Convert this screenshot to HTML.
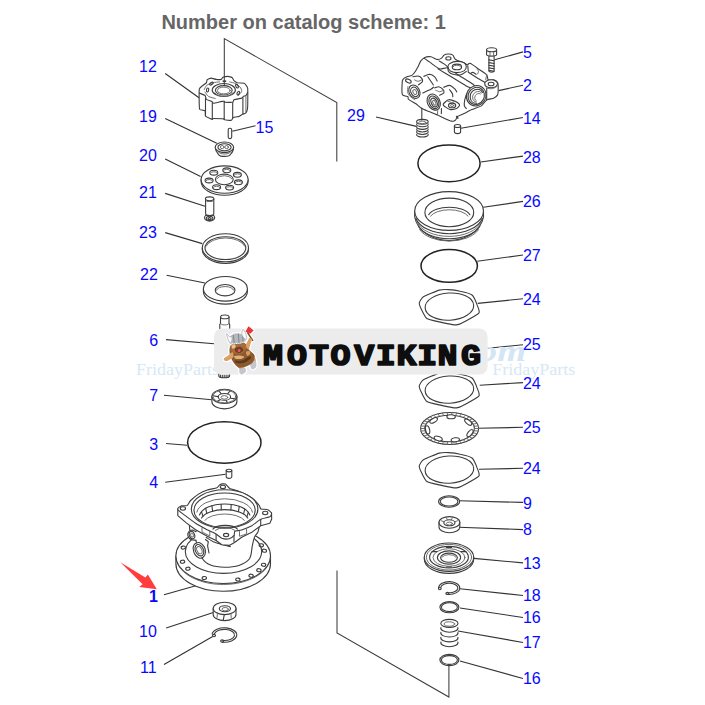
<!DOCTYPE html>
<html lang="en">
<head>
<meta charset="utf-8">
<title>Number on catalog scheme: 1</title>
<style>
html,body{margin:0;padding:0;background:#fff;}
body{width:705px;height:705px;overflow:hidden;position:relative;font-family:"Liberation Sans",Arial,sans-serif;}
#scheme{position:absolute;left:0;top:0;width:705px;height:705px;display:block;}
.ttl{font:bold 20px "Liberation Sans",Arial,sans-serif;fill:#666;}
.n{font:16px "Liberation Sans",Arial,sans-serif;fill:#0808ff;}
.nb{font:bold 16px "Liberation Sans",Arial,sans-serif;fill:#0808ff;}
.ld{stroke:#333;stroke-width:1.15;fill:none;}
.p{stroke:#3c3c3c;stroke-width:1.1;fill:none;stroke-linejoin:round;stroke-linecap:round;}
.p2{stroke:#666;stroke-width:0.95;fill:none;stroke-linejoin:round;stroke-linecap:round;}
.pf{stroke:#3c3c3c;stroke-width:1.1;fill:#fff;stroke-linejoin:round;stroke-linecap:round;}
.or{stroke:#222;stroke-width:1.5;fill:none;}
.wm{font:16px "Liberation Serif",serif;fill:#d6e8f5;}
.wmi{font:italic bold 29px "Liberation Serif",serif;fill:#d3e6f4;}
.logo{font:bold 30px "Liberation Mono",monospace;fill:#0e0e0e;stroke:#0e0e0e;stroke-width:1.7px;stroke-linejoin:round;}
</style>
</head>
<body>
<svg id="scheme" width="705" height="705" viewBox="0 0 705 705">
<rect width="705" height="705" fill="#fff"/>
<text class="ttl" x="161.4" y="28.8">Number on catalog scheme: 1</text>
<g class="ld" id="leaders">
<path d="M165.2 73.5L199 97.7"/>
<path d="M165.2 118.6L216.8 143.3"/>
<path d="M232.3 131.2L255.5 125.8"/>
<path d="M165.2 159L200.6 176.4"/>
<path d="M165.2 193.4L205 206.2"/>
<path d="M165.2 232.6L202.3 243.6"/>
<path d="M166.6 275.3L204.9 283"/>
<path d="M166 339.6L214 343.8"/>
<path d="M164 395.2L211.7 399.8"/>
<path d="M166.1 443.5L187 445.2"/>
<path d="M165.2 482.3L225.6 474.2"/>
<path d="M164 594.7L195.8 585.7"/>
<path d="M166.2 628L213.3 612.5"/>
<path d="M164 664.6L212.7 636.4"/>
<path d="M376 117L416.4 126.4"/>
<path d="M494.6 59.8L523 51.9"/>
<path d="M498.6 90.6L523 85.2"/>
<path d="M460.8 128.3L523 117.5"/>
<path d="M480.7 162L523 156.1"/>
<path d="M483.3 207.3L523 201.4"/>
<path d="M477.3 261.3L523 255"/>
<path d="M477.7 303.4L523 298.7"/>
<path d="M488 348.3L523 344.7"/>
<path d="M479.7 385.2L523 382.6"/>
<path d="M477.7 428.3L523 427.3"/>
<path d="M479 469.3L523 468.3"/>
<path d="M459.5 500.8L523 502.4"/>
<path d="M458.9 527.2L523 529.6"/>
<path d="M473.8 558.4L523 562.9"/>
<path d="M459.9 588.7L523 595.5"/>
<path d="M460 608L523 617.5"/>
<path d="M458 631L523 642.5"/>
<path d="M460 661L523 678.5"/>
</g>
<!-- p_lt -->
<g id="p_lt">
<path class="pf" d="M199.3 89.1C199.5 87.7 202 86.2 202.5 85.7C203 85.3 206 83.2 206.3 82.8C206.7 82.3 206.8 80.1 207.2 79.8C207.5 79.4 210.4 78.1 211 78.1C211.7 78.1 215.4 79.3 216.1 79.4C216.9 79.5 220.7 79.5 221.2 79.4C221.7 79.2 222.4 77.5 222.9 77.2C223.4 77 227.4 76.4 228 76.4C228.7 76.4 231.9 77.3 232.3 77.7C232.7 78 233.6 80.3 234 80.6C234.4 81 236.7 82.6 237.4 82.8C238.2 83 243.6 83 244.2 83.2C244.9 83.4 246.1 85.4 246.3 85.7C246.6 86.1 247.5 87.4 247.6 87.9C247.7 88.3 247.8 90.7 247.8 92.1C247.8 93.6 247.8 105.9 247.6 107.4C247.5 109 246.3 112.5 245.9 113C245.5 113.5 243 114 242.5 114.3C242 114.5 239.8 116.1 239.1 116.4C238.4 116.6 233.7 117.4 233.1 117.7C232.6 117.9 232.1 120.1 231.4 120.2C230.8 120.4 225.2 119.9 224.6 119.8C224.1 119.7 224.6 119 223.8 118.9C223 118.8 214.4 118.5 213.6 118.5C212.7 118.5 212.5 119.4 212.3 119.4C212 119.4 210.7 118.8 210.2 118.5C209.7 118.3 205.9 116.5 205.5 116C205.1 115.4 205.5 111.3 205.1 110.9C204.7 110.4 200.4 109.9 200 109.6C199.5 109.2 199.3 107.2 199.3 105.7C199.2 104.2 199 90.6 199.3 89.1Z"/>
<path class="p" d="M199.3 93C199.7 93.2 204.5 95.1 205.1 95.5C205.6 96 205.8 98.9 206.3 99.4C206.8 99.8 211.3 101.2 211.9 101.5C212.4 101.8 212.7 103.2 213.6 103.2C214.4 103.2 222.9 101.1 223.8 101.1C224.6 101 224.4 102.2 225.1 102.3C225.7 102.4 232.1 102.5 232.7 102.3C233.4 102.2 233.3 100.1 234 99.8C234.7 99.5 241 98.3 241.7 98.1C242.3 97.8 243 96.6 243.4 96.4C243.7 96.2 245.6 95.8 245.9 95.5C246.2 95.3 247.5 92.8 247.6 92.6"/>
<path class="p" d="M205.5 98.5L205.5 116"/>
<path class="p" d="M212.3 102.8L212.3 118.9"/>
<path class="p" d="M224.2 102.2L224.2 119.4"/>
<path class="p" d="M232.7 102.8L232.7 117.7"/>
<path class="p" d="M242.9 97.7L242.9 113.6"/>
<path class="p2" d="M245.9 95.5L245.9 112.6"/>
<ellipse class="p" cx="223.8" cy="90" rx="11.6" ry="6.5"/>
<ellipse class="p" cx="223.8" cy="90.3" rx="8.4" ry="4.7"/>
<ellipse class="p2" cx="223.8" cy="90.5" rx="6.4" ry="3.4"/>
<path class="p2" d="M232.8 92.8A9.6 5.4 0 0 1 214.8 92.8"/>
<path class="p2" d="M204.2 89.6C204.6 89 205.6 86.2 206.8 85.3C207.9 84.4 211 83.2 212.7 82.8C214.4 82.3 218.6 82 219.5 81.9"/>
<path class="p2" d="M229.7 81.9C230.5 82.1 234.3 82.9 235.7 83.6C237.1 84.3 239.2 86 240 87C240.8 88 241.9 90.1 241.7 91.3C241.4 92.4 238.7 95 238.3 95.5"/>
<path class="p2" d="M205.1 92.1C205.5 92.7 207.1 95.5 208.5 96.4C209.8 97.2 214.4 98.2 215.3 98.5"/>
<ellipse class="p" cx="207.6" cy="90" rx="1.1" ry="2" transform="rotate(10 207.6 90)"/>
<ellipse class="p" cx="237" cy="86.2" rx="1.1" ry="2" transform="rotate(-35 237 86.2)"/>
<ellipse class="p" cx="238.3" cy="93.1" rx="1.1" ry="2" transform="rotate(30 238.3 93.1)"/>
<ellipse class="p" cx="211.4" cy="83.6" rx="1.1" ry="2" transform="rotate(60 211.4 83.6)"/>
<rect class="pf" x="228.2" y="128.2" width="3.5" height="10.4" rx="1.6"/>
<g transform="translate(0 0.8)"><path class="pf" d="M215.3 146.6C215.6 151 217.5 152.5 218.4 153.4C219.5 156.3 229.6 156.4 230.6 153.3C231.8 152.3 233.4 150.8 233.6 146.6"/>
<ellipse class="pf" cx="224.4" cy="146.5" rx="9.2" ry="5.3"/>
<ellipse class="p" cx="224.5" cy="146.5" rx="6.6" ry="3.6"/>
<ellipse class="p2" cx="222.2" cy="146.3" rx="1.8" ry="1.6"/>
<ellipse class="p2" cx="226.6" cy="146.3" rx="1.8" ry="1.6"/>
<path class="p2" d="M230.7 151.2A6.4 2.8 0 0 1 218.3 151.2"/></g>
<path class="pf" d="M201.1 179.6V181.6A23.5 13.7 0 0 0 248.1 181.6V179.6"/>
<ellipse class="pf" cx="224.6" cy="179.6" rx="23.5" ry="13.7"/>
<ellipse class="p" cx="224.3" cy="179.4" rx="8.9" ry="5.3"/>
<path class="p2" d="M216.8 178.7A8 4.6 0 0 1 231.8 178.7"/>
<ellipse class="p" cx="213.8" cy="172.7" rx="4" ry="2.4"/>
<path class="p2" d="M210.6 173A3.4 1.9 0 0 1 217 173"/>
<ellipse class="p" cx="226.8" cy="170.3" rx="4" ry="2.4"/>
<path class="p2" d="M223.6 170.6A3.4 1.9 0 0 1 230 170.6"/>
<ellipse class="p" cx="237.4" cy="174.8" rx="4" ry="2.4"/>
<path class="p2" d="M234.2 175.1A3.4 1.9 0 0 1 240.6 175.1"/>
<ellipse class="p" cx="238.4" cy="182.3" rx="4" ry="2.4"/>
<path class="p2" d="M235.2 182.6A3.4 1.9 0 0 1 241.6 182.6"/>
<ellipse class="p" cx="229.6" cy="187.6" rx="4" ry="2.4"/>
<path class="p2" d="M226.4 187.9A3.4 1.9 0 0 1 232.8 187.9"/>
<ellipse class="p" cx="216.6" cy="187.2" rx="4" ry="2.4"/>
<path class="p2" d="M213.4 187.5A3.4 1.9 0 0 1 219.8 187.5"/>
<ellipse class="p" cx="209.1" cy="180.5" rx="4" ry="2.4"/>
<path class="p2" d="M205.9 180.8A3.4 1.9 0 0 1 212.3 180.8"/>
<ellipse class="pf" cx="209.6" cy="217.8" rx="5.1" ry="3.3"/>
<ellipse class="p" cx="209.6" cy="218.3" rx="3.4" ry="2.1"/>
<ellipse class="p" cx="209.6" cy="218.6" rx="1.6" ry="1"/>
<path class="p" d="M205.4 215.2L213.8 215.2"/>
<path class="pf" d="M205.6 198.8V213.6A4.1 2 0 0 0 213.8 213.6V198.8"/>
<ellipse class="pf" cx="209.6" cy="198.8" rx="4.2" ry="1.9"/>
<path class="p2" d="M207 201.5L212.2 201.5"/>
<path class="pf" d="M202.3 247.8V249.4A23.1 14 0 0 0 248.5 249.4V247.8"/>
<ellipse class="pf" cx="225.4" cy="247.8" rx="23.1" ry="14"/>
<ellipse class="p" cx="225.4" cy="248.1" rx="20.4" ry="11.4"/>
<path class="p2" d="M206.1 246.2A20 11 0 0 1 244.8 246.2"/>
<path class="pf" d="M203.4 288.8V291.8A22 12.3 0 0 0 247.4 291.8V288.8"/>
<ellipse class="pf" cx="225.4" cy="288.8" rx="22" ry="12.3"/>
<ellipse class="p" cx="225.1" cy="290.2" rx="9.9" ry="5.7"/>
<path class="p2" d="M216.4 290.3A9 5 0 0 1 233.8 290.3"/>
</g>
<!-- p_lb -->
<g id="p_lb">
<path class="pf" d="M220.5 317V323.2L219.8 324.6V331H229.7V324.6L229 323.2V317"/>
<ellipse class="pf" cx="224.8" cy="316.9" rx="4.2" ry="1.9"/>
<path class="p2" d="M229 323.3A4.2 1.6 0 0 1 220.5 323.3"/>
<path class="pf" d="M218.8 372V376A5.4 1.8 0 0 0 229.6 376V372"/>
<path class="p" d="M220.4 375L220.4 377.4"/>
<path class="p" d="M222.3 375L222.3 377.4"/>
<path class="p" d="M224.2 375L224.2 377.4"/>
<path class="p" d="M226.1 375L226.1 377.4"/>
<path class="p" d="M228 375L228 377.4"/>
<path class="pf" d="M211.9 396.4V401.8A12.5 7.1 0 0 0 236.9 401.8V396.4"/>
<ellipse class="pf" cx="224.4" cy="396.4" rx="12.5" ry="7.1"/>
<ellipse class="p" cx="224.4" cy="396.9" rx="6.2" ry="3.4"/>
<ellipse class="p2" cx="224.4" cy="397.4" rx="3.4" ry="1.8"/>
<path class="p" d="M230.7 398.2L235.4 398.7"/>
<path class="p" d="M226.2 400.5L227.5 402.8"/>
<path class="p" d="M220.2 399.7L217 401.5"/>
<path class="p" d="M217.9 396.6L212.9 395.8"/>
<path class="p" d="M221.1 393.7L218.6 390.7"/>
<path class="p" d="M227.8 393.7L230.2 390.7"/>
<ellipse class="p2" cx="224.4" cy="396.4" rx="11.4" ry="6.4"/>
<ellipse class="or" cx="224.3" cy="442.5" rx="36.7" ry="20.7"/>
<path class="pf" d="M226.2 470.6V476.6A2.8 1.8 0 0 0 231.8 476.6V470.6"/>
<ellipse class="pf" cx="229" cy="470.6" rx="2.8" ry="1.3"/>
<path class="pf" d="M175.9 556V563.8A47.3 27.5 0 0 0 270.5 563.8V556"/>
<ellipse class="pf" cx="223.2" cy="556" rx="47.3" ry="27.5"/>
<path class="p2" d="M265.5 568.9A46.7 27.1 0 0 1 180.9 568.9"/>
<ellipse class="p" cx="223.5" cy="551.6" rx="38.2" ry="21.8"/>
<ellipse class="p" cx="183.3" cy="547.6" rx="2.2" ry="1.5" transform="rotate(-10 183.3 547.6)"/>
<ellipse class="p" cx="182.5" cy="561.7" rx="2.2" ry="1.5" transform="rotate(-10 182.5 561.7)"/>
<ellipse class="p" cx="187.9" cy="568.7" rx="2.2" ry="1.5" transform="rotate(-10 187.9 568.7)"/>
<ellipse class="p" cx="204.3" cy="578" rx="2.2" ry="1.5" transform="rotate(-10 204.3 578)"/>
<ellipse class="p" cx="237.9" cy="579.6" rx="2.2" ry="1.5" transform="rotate(10 237.9 579.6)"/>
<ellipse class="p" cx="251.1" cy="575.7" rx="2.2" ry="1.5" transform="rotate(10 251.1 575.7)"/>
<ellipse class="p" cx="258.9" cy="570.2" rx="2.2" ry="1.5" transform="rotate(10 258.9 570.2)"/>
<ellipse class="p" cx="263.6" cy="564.8" rx="2.2" ry="1.5" transform="rotate(10 263.6 564.8)"/>
<ellipse class="p" cx="264.4" cy="550.7" rx="2.2" ry="1.5" transform="rotate(10 264.4 550.7)"/>
<ellipse class="p" cx="261.3" cy="545.3" rx="2.2" ry="1.5" transform="rotate(10 261.3 545.3)"/>
<path class="pf" d="M189.2 521.8C189.4 523.5 189.1 528.4 190.3 531.7C191.5 535 194.3 537.3 196.3 541.7C198.2 546 199.6 554.1 202 558C204.3 561.9 206.7 563.5 210.5 565.1C214.2 566.6 219.9 567.2 224.6 567.2C229.4 567.2 234.7 566.8 238.8 565.4C243 563.9 247.2 561.9 249.5 558.7C251.7 555.4 251.5 549.5 252.3 545.9C253.1 542.4 253.5 539.8 254.4 537.4C255.4 535 257 534.3 258 531.7C258.9 529.1 259.8 523.5 260.1 521.8Z"/>
<path class="pf" d="M196.3 531.7C195.6 531.5 193.3 530 192 530C190.7 530.1 189.1 531 188.5 532C187.8 533 187.6 534.7 188 536C188.5 537.2 189.5 538.8 190.9 539.5C192.3 540.2 195.4 540.1 196.3 540.2"/>
<ellipse class="p" cx="192" cy="535.1" rx="2.6" ry="3.8" transform="rotate(-20 192 535.1)"/>
<ellipse class="p2" cx="192" cy="535.1" rx="1.3" ry="2" transform="rotate(-20 192 535.1)"/>
<path class="pf" d="M196.3 543.1C197.2 542.8 198.5 542.2 199.8 542.8C201.1 543.4 203.1 545 204.1 546.6C205 548.2 205.6 550.6 205.5 552.3C205.4 554 204.4 556 203.4 557C202.3 557.9 200.5 558.4 199.1 558C197.7 557.6 195.9 556 194.9 554.4C193.9 552.9 193.3 550.4 193.2 548.8C193 547.2 193.6 545.7 194.1 544.8C194.7 543.8 195.3 543.4 196.3 543.1Z"/>
<ellipse class="p" cx="199.4" cy="550.2" rx="4" ry="6" transform="rotate(-25 199.4 550.2)"/>
<ellipse class="p2" cx="199.4" cy="550.2" rx="2.4" ry="3.8" transform="rotate(-25 199.4 550.2)"/>
<path class="p" d="M205.5 539.5 L208.3 541.7 L207.6 545.9 L209 553"/>
<path class="p" d="M206.2 537.4C207.4 538.1 210.7 540.5 213.3 541.7C215.9 542.8 219 543.7 221.8 544.5C224.6 545.3 228.9 546.3 230.3 546.6"/>
<path class="pf" d="M177.8 509 L177.8 515.6 L186.3 522.9 L195.6 529.8 L207.3 536.3 L216.1 540.5 L221.8 544.8 L229.2 545.4 L234.6 542.5 L241.7 537.3 L252.3 531.9 L260.7 525.8 L269.8 523.2 L271.7 519 L271.5 513Z"/>
<path class="p" d="M216.1 534L216.1 540.2"/>
<path class="p" d="M234 535.4L234 541.7"/>
<path class="p" d="M260.7 519.3L260.7 525.5"/>
<path class="p2" d="M202 527.8 L202 532 L209.8 536 L209.8 531.5"/>
<path class="p2" d="M239.5 531.5 L239.5 536.3 L246.6 533.9 L246.6 529.2"/>
<path class="pf" d="M216.8 487.8C218.4 487.1 219.1 484.8 220.1 484.4C221.1 483.9 224.4 483.6 225.5 484.1C226.6 484.6 228.1 487.6 229.8 488.5C231.4 489.3 237 490.4 239.5 491.5C242.1 492.5 249.3 496.1 251.6 497.7C253.9 499.3 257.9 503.7 259 505.1C260.1 506.4 260 508.5 261 509C261.9 509.6 266 509 267.2 509.5C268.4 509.9 271.2 512.2 271.5 513C271.8 513.9 271 516 269.8 516.7C268.5 517.4 262.7 518.2 260.7 519.3C258.6 520.3 254.5 524.1 252.3 525.4C250.1 526.6 243.7 529.2 241.7 529.9C239.6 530.6 235.8 530.7 234.9 531.3C234 532 234.7 534.5 234 535.4C233.3 536.3 230.6 538.5 229.2 538.8C227.8 539.2 223.3 538.8 221.8 538.3C220.3 537.7 217.8 535 216.1 534C214.4 533 209.7 531 207.3 529.8C204.9 528.5 198 524.8 195.6 523.2C193.1 521.7 188.3 517.9 186.3 516.4C184.4 515 179.7 511.7 178.7 510.7C177.7 509.8 177.5 509 177.8 508.5C178.1 507.9 180.1 506.3 181.2 505.9C182.3 505.6 186.1 506 187.2 505.4C188.3 504.7 189.3 501.8 190.6 500.5C191.9 499.3 196.3 495.6 198.1 494.4C200 493.2 204.4 491 206.6 490.2C208.8 489.4 215.3 488.4 216.8 487.8Z"/>
<ellipse class="p" cx="222.9" cy="486.9" rx="2.6" ry="1.7"/>
<ellipse class="p" cx="182.9" cy="508.5" rx="2.6" ry="1.7"/>
<ellipse class="p" cx="265.2" cy="513" rx="2.6" ry="1.7"/>
<ellipse class="p" cx="226.1" cy="535.1" rx="2.6" ry="1.7"/>
<ellipse class="pf" cx="224.6" cy="509" rx="33.3" ry="19.2"/>
<ellipse class="p" cx="224.6" cy="510.2" rx="30.6" ry="17.2"/>
<path class="p2" d="M196.8 512.2A28 15 0 0 1 252.5 512.2"/>
<path class="p" d="M199.5 515A25.5 13.2 0 0 1 249.8 515"/>
<path class="p" d="M201.5 518.1A24 11.5 0 0 1 247.8 518.1"/>
<path class="p" d="M201.5 511.7L202.9 516.2"/>
<path class="p" d="M205.7 508.4L206.8 513.3"/>
<path class="p" d="M211.9 505.8L212.6 511.1"/>
<path class="p" d="M221.1 504.2L221.3 509.7"/>
<path class="p" d="M231.2 504.5L230.9 509.9"/>
<path class="p" d="M239.3 506.4L238.4 511.6"/>
<path class="p" d="M244.7 509.1L243.6 514"/>
<path class="p" d="M248.3 512.3L246.9 516.7"/>
<path class="p" d="M212.9 529.1A13 5.6 0 0 1 237.4 529.1"/>
<path class="p2" d="M215.2 530.4A11 4.4 0 0 1 235.1 530.4"/>
<path class="p2" d="M204.9 520.3A21 9.5 0 0 1 244.4 520.3"/>
<path class="pf" d="M213.2 608.4V614.4A11.4 6.2 0 0 0 236 614.4V608.4"/>
<ellipse class="pf" cx="224.6" cy="608.4" rx="11.4" ry="6.2"/>
<ellipse class="p" cx="224.9" cy="608.7" rx="5.6" ry="3"/>
<ellipse class="p2" cx="225.2" cy="609.2" rx="3.2" ry="1.7"/>
<path class="p" d="M224.2 615.2L223.2 620.4"/>
<path class="p2" d="M217.5 613L217 617.5"/>
<path class="p2" d="M231 613.6L231.2 618"/>
<path class="p" d="M212.1 634A12.4 7.2 0 1 1 222.2 642.1"/>
<path class="p" d="M214.4 633.8A10.2 5.6 0 1 1 223 640.5"/>
<ellipse class="p" cx="214" cy="635.6" rx="1.5" ry="1.2"/>
<ellipse class="p" cx="222.2" cy="641" rx="1.6" ry="1.1"/>
</g>
<!-- p_rt -->
<g id="p_rt">
<path class="pf" d="M424.8 57.4C423.8 57.9 421.5 60 420.8 60.9C420.1 61.9 418.5 65.8 417.9 66.9C417.3 68 415.5 71.2 414.9 72C414.3 72.9 412.7 74.9 411.9 75.4C411.1 75.9 407.9 76.4 406.9 76.8C406 77.2 403.2 79 402.8 79.6C402.3 80.2 402.2 81.3 402.2 82.8C402.1 84.3 401.8 93.3 402.4 94.7C402.9 96.1 407.3 96.2 407.9 96.7C408.5 97.1 407.7 98.5 408.5 99.3C409.3 100 414.5 102.9 415.9 103.8C417.2 104.8 420.4 107.8 421.8 108.6C423.2 109.4 428.2 111.1 429.8 111.8C431.4 112.4 436.4 114.5 437.7 115C439 115.6 441.4 117 442.7 117.5C443.9 118.1 449.1 120.4 450.1 120.8C451.2 121.2 452.7 121.3 453.2 121.2C453.8 121.1 455.3 120.4 455.7 119.9C456.1 119.4 456.6 117.2 457.5 116.5C458.3 115.9 462.6 114.3 464 113.6C465.4 112.9 470 110.4 471.8 109.6C473.5 108.8 480.2 106.6 481.7 105.6C483.2 104.6 485.5 100.6 486.7 99.9C487.9 99.1 492.5 98.8 493.6 98.3C494.7 97.8 497.1 95.7 497.6 94.9C498 94 498.2 90.9 498.2 89.7C498.2 88.5 498.2 84 497.8 83C497.3 82 494.8 80.1 493.8 79.8C492.9 79.5 489 80.5 488.2 80C487.5 79.5 487.7 76 486.7 74.8C485.6 73.7 479.4 69.6 477.7 68.5C476.1 67.3 471 63.7 470 63.3C468.9 62.9 467.8 65 467.2 64.9C466.6 64.8 465 63.1 464 62.7C463.1 62.3 458.8 61.1 457.9 60.7C456.9 60.3 455.4 59.5 454.9 58.9C454.4 58.4 453.5 55.7 452.9 55.2C452.3 54.7 449.3 54 448.4 54C447.5 54 444.6 54.7 444 55.2C443.3 55.6 442.2 57.7 441.6 58.1C440.9 58.6 438.3 59.6 437.2 59.4C436.2 59.3 432.2 57 431 56.8C429.7 56.6 425.8 57 424.8 57.4Z"/>
<path class="p" d="M424.3 58.4C425 58.9 429.2 61.9 430.8 62.9C432.3 64 438 68.4 439.7 68.9C441.4 69.4 446.1 67.3 447.9 67.9C449.7 68.5 455.6 73.3 457.9 74.8C460.1 76.3 468.9 81.6 470.8 82.8C472.6 84 475.7 86.5 476.2 86.9"/>
<path class="p" d="M438 68.9C439.5 69.8 450.1 76.1 452.9 77.8C455.7 79.5 464 84.7 465.8 85.7C467.6 86.8 470.3 87.7 470.8 87.9"/>
<path class="p" d="M439 60.9C439.5 61.2 443 63.2 444 63.9C445 64.6 448.4 67.5 448.9 67.9"/>
<ellipse class="p" cx="448.4" cy="58.4" rx="2.6" ry="1.6"/>
<path class="pf" d="M447.9 66.9C447.9 65.8 448.6 64.2 449.9 63.4C451.3 62.6 454.8 61.5 456.9 61.4C459 61.3 462.6 62 464 62.7C465.4 63.5 466.3 65.2 466.3 66.4C466.3 67.6 465.4 69.9 464 70.9C462.6 71.8 458.9 72.6 456.9 72.6C454.8 72.6 451.8 71.7 450.4 70.9C449.1 70 448 68 447.9 66.9Z"/>
<ellipse class="p" cx="456.9" cy="66.9" rx="4.7" ry="2.8"/>
<path class="p2" d="M453.1 66.7A4 2.2 0 0 1 460.6 66.7"/>
<path class="p" d="M447.9 67.4C448 67.9 447.8 70.4 448.4 71.4C449.1 72.3 451.2 73.9 452.9 74.3C454.6 74.8 459.1 75.2 460.8 74.8C462.6 74.4 465.6 71.8 466.3 71.4"/>
<path class="p" d="M467.8 65.9 L468.3 72.3 L477.7 78.3 L484.7 82.3"/>
<path class="p" d="M470.8 73.3C471.1 73.2 472.2 72.2 473 72.3C473.7 72.5 475.8 74.1 476.2 74.3"/>
<path class="p2" d="M477.2 69.4C477.4 69.6 478.5 70.8 478.5 71.4C478.6 71.9 477.8 73.5 477.7 73.8"/>
<path class="p2" d="M486.7 74.8 L485.7 79.8"/>
<ellipse class="pf" cx="491.1" cy="83.8" rx="6.4" ry="4"/>
<ellipse class="p" cx="491.1" cy="84" rx="2.9" ry="1.8"/>
<path class="p2" d="M484.9 84.8C485.1 85.2 485.8 87.2 486.7 87.7C487.6 88.3 490.3 88.9 491.6 88.7C492.9 88.6 495.8 87.3 496.6 86.7C497.4 86.1 497.5 84.6 497.6 84.3"/>
<path class="p" d="M486.7 88.2 L486.7 99.9"/>
<ellipse class="pf" cx="476.2" cy="95.7" rx="9.6" ry="10.4" transform="rotate(30 476.2 95.7)"/>
<ellipse class="p" cx="476.2" cy="95.9" rx="8" ry="8.8" transform="rotate(30 476.2 95.9)"/>
<path class="p" d="M476.5 103.3A6.4 7.2 30 1 1 482.7 92.5"/>
<path class="p2" d="M476.2 102.1A4.8 5.6 30 1 1 481.5 92.9"/>
<path class="p2" d="M476.3 100.8A3.2 4 30 1 1 480.3 93.9"/>
<path class="p" d="M466.8 93.7C466.5 94.5 465.1 98.1 464.8 99.7C464.5 101.2 464.1 104.4 464.3 105.6C464.5 106.8 466 108.2 466.3 108.6"/>
<path class="p" d="M456.4 116.3C456.6 116.6 457.7 118.5 457.9 118.5C458 118.5 457.5 116.8 457.5 116.5"/>
<ellipse class="p" cx="408.4" cy="81" rx="3" ry="1.7" transform="rotate(25 408.4 81)"/>
<path class="p" d="M412.9 76.8C413.6 76.7 416.7 75.8 417.9 76C419.1 76.2 421.2 77.6 421.8 78.4C422.4 79.2 422.9 80.9 422.4 81.8C422 82.6 418.9 84.4 418.4 84.8"/>
<path class="p2" d="M414.4 79.8C414.8 80 416.9 81.3 417.9 81.3C418.9 81.3 421.3 80 421.8 79.8"/>
<ellipse class="pf" cx="414.4" cy="91.7" rx="5.2" ry="7" transform="rotate(-28 414.4 91.7)"/>
<ellipse class="p" cx="414.6" cy="91.9" rx="3.6" ry="5" transform="rotate(-28 414.6 91.9)"/>
<ellipse class="p2" cx="414.8" cy="92.1" rx="1.7" ry="2.6" transform="rotate(-28 414.8 92.1)"/>
<path class="p2" d="M407.9 86.7C407.9 87.5 407.4 91.4 407.7 92.7C408.1 94 409.5 95.7 410.4 96.7C411.4 97.6 414.3 99.3 414.9 99.7"/>
<ellipse class="pf" cx="433.7" cy="102.1" rx="6.2" ry="8.4" transform="rotate(-25 433.7 102.1)"/>
<ellipse class="p" cx="433.9" cy="102.3" rx="4.6" ry="6.6" transform="rotate(-25 433.9 102.3)"/>
<ellipse class="p" cx="434.1" cy="102.5" rx="2.8" ry="4.6" transform="rotate(-25 434.1 102.5)"/>
<ellipse class="p2" cx="434.3" cy="102.7" rx="1.3" ry="2.6" transform="rotate(-25 434.3 102.7)"/>
<path class="p" d="M441.5 108.6 L441.3 113.6"/>
<path class="p2" d="M437.7 110.6 L437.5 115"/>
<path class="p" d="M443.2 104.1C443.5 103.4 447.4 99.9 448.6 99.7C449.9 99.4 454.5 101.1 455.6 101.6C456.7 102.2 459.5 104.4 459.6 105.1C459.7 105.8 457.5 108.1 456.6 108.6C455.7 109 451.7 109.7 450.6 109.6C449.5 109.4 446.4 107.6 445.7 107.1C444.9 106.6 442.9 104.9 443.2 104.1Z"/>
<ellipse class="p" cx="452.1" cy="105.4" rx="3.6" ry="2.3"/>
<ellipse class="p2" cx="452.1" cy="105.6" rx="1.7" ry="1"/>
<path class="p2" d="M447.7 101.1 L451.6 102.6 L455.1 101.4"/>
<path class="p" d="M423.8 76.3C424.6 76.1 428.3 74.3 429.8 74.3C431.2 74.4 433.7 75.9 434.7 76.8C435.7 77.7 436.9 80.4 437.2 81"/>
<path class="p" d="M427.8 76.8C428.3 77.5 430.8 81.2 431.6 82.3C432.3 83.4 433.1 84.6 433.4 85"/>
<path class="p" d="M422.8 92.9C423.9 92.4 429.3 90.1 430.8 89.3C432.2 88.6 433.2 87.4 433.6 87.1"/>
<path class="p" d="M434.7 87.9C435.3 87.8 437.6 86.6 438.7 86.7C439.8 86.9 442.2 88.5 442.9 89.3C443.6 90.1 444.3 91.9 443.9 92.7C443.5 93.5 440.3 94.9 439.7 95.3"/>
<path class="p2" d="M435.7 90.2C436.3 90.4 438.7 91.7 439.7 91.7C440.7 91.7 442.7 90.7 443.2 90.5"/>
<path class="p" d="M443.7 87.3C444.5 87.1 448.2 85.2 449.6 85.4C451.1 85.5 453.7 87.9 454.6 88.7C455.6 89.6 456.5 91.5 456.8 91.9"/>
<path class="p" d="M449.6 89.7C450 90.3 452 92.8 452.4 93.7C452.8 94.6 452.8 96.3 452.8 96.7"/>
<path class="pf" d="M488.9 54.8V71.1A2.6 1 0 0 0 494.1 71.1V54.8"/>
<path class="p" d="M488.9 59.9L494.1 60.8"/>
<path class="p" d="M488.9 62.6L494.1 63.5"/>
<path class="p" d="M488.9 65.3L494.1 66.1"/>
<path class="p" d="M488.9 67.9L494.1 68.8"/>
<path class="p" d="M488.9 70.3L494.1 71.2"/>
<path class="pf" d="M486.6 49.8V54.5A5 1.6 0 0 0 496.6 54.5V49.8"/>
<ellipse class="pf" cx="491.6" cy="49.8" rx="5" ry="2"/>
<path class="p2" d="M490 51.9L490 56"/>
<path class="p2" d="M493.6 51.9L493.6 56"/>
<path class="p" d="M421.8 108L421.8 120"/>
<ellipse class="p" cx="422.4" cy="121.8" rx="5.8" ry="2.4"/>
<ellipse class="p2" cx="422.4" cy="122.4" rx="3.6" ry="1.3"/>
<path class="p" d="M428.1 123.9A5.8 2.4 0 1 1 416.7 123.9"/>
<path class="p" d="M428.1 126.5A5.8 2.4 0 1 1 416.7 126.5"/>
<path class="p" d="M428.1 129.1A5.8 2.4 0 1 1 416.7 129.1"/>
<path class="p" d="M428.1 131.6A5.8 2.4 0 1 1 416.7 131.6"/>
<path class="p" d="M428.1 134.2A5.8 2.4 0 1 1 416.7 134.2"/>
<path class="pf" d="M454.4 126V131.8A3.1 1.8 0 0 0 460.6 131.8V126"/>
<ellipse class="pf" cx="457.5" cy="126" rx="3.1" ry="1.5"/>
<ellipse class="or" cx="449" cy="163.4" rx="31.1" ry="18.3"/>
<path class="pf" d="M414.7 211V217C417.7 233 435.1 240.6 449.1 240.6C463.1 240.6 480.5 233 483.5 217V211"/>
<path class="p" d="M482.4 218.2A34 19.4 0 0 1 415.8 218.2"/>
<path class="p2" d="M481.2 222.3A33.2 18.9 0 0 1 417 222.3"/>
<path class="p" d="M479.9 226.1A32.4 18.4 0 0 1 418.3 226.1"/>
<path class="p2" d="M478.6 229.6A31.6 17.9 0 0 1 419.6 229.6"/>
<ellipse class="pf" cx="449.1" cy="211" rx="34.4" ry="19.4"/>
<ellipse class="p" cx="449.3" cy="212.4" rx="24.4" ry="14.3"/>
<path class="p" d="M428.7 214.7A21.5 10.5 0 0 1 469.9 214.7"/>
<path class="p2" d="M430.5 216.1A20 9.6 0 0 1 468.1 216.1"/>
<ellipse class="or" cx="449.2" cy="265.9" rx="28.2" ry="16.4"/>
<path class="pf" d="M419.3 302.9C419.5 301.9 421.7 297.8 423.4 296.7C425 295.7 437.2 290.7 439.4 290.1C441.5 289.5 447 289.5 448.7 289.6C450.5 289.7 458.2 290.8 460.1 291.3C462.1 291.7 470.6 293.9 472 295C473.5 296.2 476.6 303.5 477.1 304.9C477.7 306.3 479.1 310.6 479.2 311.4C479.3 312.1 479.6 312.8 478.2 313.7C476.7 314.7 463.2 322.4 461.5 323.3C459.8 324.2 458.5 324.5 457.7 324.6C457 324.8 454.2 324.9 452.6 324.6C451.1 324.4 441.5 322.4 439.4 321.9C437.2 321.4 428.3 319.6 426.8 318.5C425.2 317.4 421.6 309.9 421 308.6C420.4 307.3 419.1 303.8 419.3 302.9Z"/>
<ellipse class="p" cx="449.4" cy="306.6" rx="24.3" ry="13.6" transform="rotate(-3 449.4 306.6)"/>
</g>
<!-- p_rb -->
<g id="p_rb">
<ellipse class="pf" cx="449.6" cy="345.5" rx="29" ry="16"/>
<ellipse class="p" cx="449.6" cy="345.5" rx="24.8" ry="13.3"/>
<path class="p2" d="M478.6 345.5L474.4 345.5"/>
<path class="p2" d="M478.2 348.1L474.1 347.7"/>
<path class="p2" d="M477 350.7L473.1 349.8"/>
<path class="p2" d="M475.1 353.1L471.4 351.8"/>
<path class="p2" d="M472.5 355.3L469.2 353.7"/>
<path class="p2" d="M469.2 357.3L466.4 355.3"/>
<path class="p2" d="M465.5 358.9L463.2 356.6"/>
<path class="p2" d="M461.2 360.2L459.6 357.7"/>
<path class="p2" d="M456.7 361L455.7 358.4"/>
<path class="p2" d="M452 361.4L451.6 358.8"/>
<path class="p2" d="M447.2 361.4L447.6 358.8"/>
<path class="p2" d="M442.5 361L443.5 358.4"/>
<path class="p2" d="M438 360.2L439.6 357.7"/>
<path class="p2" d="M433.7 358.9L436 356.6"/>
<path class="p2" d="M430 357.3L432.8 355.3"/>
<path class="p2" d="M426.7 355.3L430 353.7"/>
<path class="p2" d="M424.1 353.1L427.8 351.8"/>
<path class="p2" d="M422.2 350.7L426.1 349.8"/>
<path class="p2" d="M421 348.1L425.1 347.7"/>
<path class="p2" d="M420.6 345.5L424.8 345.5"/>
<path class="p2" d="M421 342.9L425.1 343.3"/>
<path class="p2" d="M422.2 340.3L426.1 341.2"/>
<path class="p2" d="M424.1 337.9L427.8 339.2"/>
<path class="p2" d="M426.7 335.7L430 337.3"/>
<path class="p2" d="M430 333.7L432.8 335.7"/>
<path class="p2" d="M433.7 332.1L436 334.4"/>
<path class="p2" d="M438 330.8L439.6 333.3"/>
<path class="p2" d="M442.5 330L443.5 332.6"/>
<path class="p2" d="M447.2 329.6L447.6 332.2"/>
<path class="p2" d="M452 329.6L451.6 332.2"/>
<path class="p2" d="M456.7 330L455.7 332.6"/>
<path class="p2" d="M461.2 330.8L459.6 333.3"/>
<path class="p2" d="M465.5 332.1L463.2 334.4"/>
<path class="p2" d="M469.2 333.7L466.4 335.7"/>
<path class="p2" d="M472.5 335.7L469.2 337.3"/>
<path class="p2" d="M475.1 337.9L471.4 339.2"/>
<path class="p2" d="M477 340.3L473.1 341.2"/>
<path class="p2" d="M478.2 342.9L474.1 343.3"/>
<ellipse class="pf" cx="451.1" cy="333.8" rx="4.2" ry="2" transform="rotate(2.1 451.1 333.8)"/>
<ellipse class="pf" cx="433.6" cy="337.4" rx="4.2" ry="2" transform="rotate(-29 433.6 337.4)"/>
<ellipse class="pf" cx="427.6" cy="346.9" rx="4.2" ry="2" transform="rotate(-102.9 427.6 346.9)"/>
<ellipse class="pf" cx="438.2" cy="355.5" rx="4.2" ry="2" transform="rotate(-162.1 438.2 355.5)"/>
<ellipse class="pf" cx="455.3" cy="356.8" rx="4.2" ry="2" transform="rotate(171.8 455.3 356.8)"/>
<ellipse class="pf" cx="470" cy="350.1" rx="4.2" ry="2" transform="rotate(128.4 470 350.1)"/>
<ellipse class="pf" cx="468.2" cy="339.1" rx="4.2" ry="2" transform="rotate(39.6 468.2 339.1)"/>
<path class="pf" d="M419.3 385.9C419.5 384.9 421.7 380.8 423.4 379.7C425 378.7 437.2 373.7 439.4 373.1C441.5 372.5 447 372.5 448.7 372.6C450.5 372.7 458.2 373.8 460.1 374.3C462.1 374.7 470.6 376.9 472 378C473.5 379.2 476.6 386.5 477.1 387.9C477.7 389.3 479.1 393.6 479.2 394.4C479.3 395.1 479.6 395.8 478.2 396.7C476.7 397.7 463.2 405.4 461.5 406.3C459.8 407.2 458.5 407.5 457.7 407.6C457 407.8 454.2 407.9 452.6 407.6C451.1 407.4 441.5 405.4 439.4 404.9C437.2 404.4 428.3 402.6 426.8 401.5C425.2 400.4 421.6 392.9 421 391.6C420.4 390.3 419.1 386.8 419.3 385.9Z"/>
<ellipse class="p" cx="449.4" cy="389.6" rx="24.3" ry="13.6" transform="rotate(-3 449.4 389.6)"/>
<ellipse class="pf" cx="449.6" cy="428.5" rx="29" ry="16"/>
<ellipse class="p" cx="449.6" cy="428.5" rx="24.8" ry="13.3"/>
<path class="p2" d="M478.6 428.5L474.4 428.5"/>
<path class="p2" d="M478.2 431.1L474.1 430.7"/>
<path class="p2" d="M477 433.7L473.1 432.8"/>
<path class="p2" d="M475.1 436.1L471.4 434.8"/>
<path class="p2" d="M472.5 438.3L469.2 436.7"/>
<path class="p2" d="M469.2 440.3L466.4 438.3"/>
<path class="p2" d="M465.5 441.9L463.2 439.6"/>
<path class="p2" d="M461.2 443.2L459.6 440.7"/>
<path class="p2" d="M456.7 444L455.7 441.4"/>
<path class="p2" d="M452 444.4L451.6 441.8"/>
<path class="p2" d="M447.2 444.4L447.6 441.8"/>
<path class="p2" d="M442.5 444L443.5 441.4"/>
<path class="p2" d="M438 443.2L439.6 440.7"/>
<path class="p2" d="M433.7 441.9L436 439.6"/>
<path class="p2" d="M430 440.3L432.8 438.3"/>
<path class="p2" d="M426.7 438.3L430 436.7"/>
<path class="p2" d="M424.1 436.1L427.8 434.8"/>
<path class="p2" d="M422.2 433.7L426.1 432.8"/>
<path class="p2" d="M421 431.1L425.1 430.7"/>
<path class="p2" d="M420.6 428.5L424.8 428.5"/>
<path class="p2" d="M421 425.9L425.1 426.3"/>
<path class="p2" d="M422.2 423.3L426.1 424.2"/>
<path class="p2" d="M424.1 420.9L427.8 422.2"/>
<path class="p2" d="M426.7 418.7L430 420.3"/>
<path class="p2" d="M430 416.7L432.8 418.7"/>
<path class="p2" d="M433.7 415.1L436 417.4"/>
<path class="p2" d="M438 413.8L439.6 416.3"/>
<path class="p2" d="M442.5 413L443.5 415.6"/>
<path class="p2" d="M447.2 412.6L447.6 415.2"/>
<path class="p2" d="M452 412.6L451.6 415.2"/>
<path class="p2" d="M456.7 413L455.7 415.6"/>
<path class="p2" d="M461.2 413.8L459.6 416.3"/>
<path class="p2" d="M465.5 415.1L463.2 417.4"/>
<path class="p2" d="M469.2 416.7L466.4 418.7"/>
<path class="p2" d="M472.5 418.7L469.2 420.3"/>
<path class="p2" d="M475.1 420.9L471.4 422.2"/>
<path class="p2" d="M477 423.3L473.1 424.2"/>
<path class="p2" d="M478.2 425.9L474.1 426.3"/>
<ellipse class="pf" cx="451.1" cy="416.8" rx="4.2" ry="2" transform="rotate(2.1 451.1 416.8)"/>
<ellipse class="pf" cx="433.6" cy="420.4" rx="4.2" ry="2" transform="rotate(-29 433.6 420.4)"/>
<ellipse class="pf" cx="427.6" cy="429.9" rx="4.2" ry="2" transform="rotate(-102.9 427.6 429.9)"/>
<ellipse class="pf" cx="438.2" cy="438.5" rx="4.2" ry="2" transform="rotate(-162.1 438.2 438.5)"/>
<ellipse class="pf" cx="455.3" cy="439.8" rx="4.2" ry="2" transform="rotate(171.8 455.3 439.8)"/>
<ellipse class="pf" cx="470" cy="433.1" rx="4.2" ry="2" transform="rotate(128.4 470 433.1)"/>
<ellipse class="pf" cx="468.2" cy="422.1" rx="4.2" ry="2" transform="rotate(39.6 468.2 422.1)"/>
<path class="pf" d="M419.3 465.9C419.5 464.9 421.7 460.8 423.4 459.7C425 458.7 437.2 453.7 439.4 453.1C441.5 452.5 447 452.5 448.7 452.6C450.5 452.7 458.2 453.8 460.1 454.3C462.1 454.7 470.6 456.9 472 458C473.5 459.2 476.6 466.5 477.1 467.9C477.7 469.3 479.1 473.6 479.2 474.4C479.3 475.1 479.6 475.8 478.2 476.7C476.7 477.7 463.2 485.4 461.5 486.3C459.8 487.2 458.5 487.5 457.7 487.6C457 487.8 454.2 487.9 452.6 487.6C451.1 487.4 441.5 485.4 439.4 484.9C437.2 484.4 428.3 482.6 426.8 481.5C425.2 480.4 421.6 472.9 421 471.6C420.4 470.3 419.1 466.8 419.3 465.9Z"/>
<ellipse class="p" cx="449.4" cy="469.6" rx="24.3" ry="13.6" transform="rotate(-3 449.4 469.6)"/>
<ellipse class="pf" cx="449.1" cy="501.5" rx="10.5" ry="5.8"/>
<ellipse class="p" cx="449.1" cy="501.5" rx="8.8" ry="4.5"/>
<path class="pf" d="M439 522.4V527A10.4 5.8 0 0 0 459.8 527V522.4"/>
<ellipse class="pf" cx="449.4" cy="522.4" rx="10.4" ry="5.8"/>
<ellipse class="p" cx="449.4" cy="522.8" rx="5.6" ry="3"/>
<ellipse class="p2" cx="449.4" cy="523.6" rx="3" ry="1.5"/>
<path class="p2" d="M444.1 521.8L441.3 520.8"/>
<path class="p2" d="M447.5 520L446.5 517.9"/>
<path class="p2" d="M451.3 520L452.3 517.9"/>
<path class="p2" d="M454.7 521.8L457.5 520.8"/>
<path class="pf" d="M424.3 557.2V559.2A24.7 14.2 0 0 0 473.7 559.2V557.2"/>
<ellipse class="pf" cx="449" cy="557.2" rx="24.7" ry="14.2"/>
<ellipse class="p2" cx="449" cy="557.2" rx="22.6" ry="12.8"/>
<ellipse class="p" cx="449" cy="557.2" rx="19.4" ry="10.8"/>
<ellipse class="p2" cx="449" cy="557.5" rx="16" ry="8.8"/>
<ellipse class="p" cx="449" cy="557.5" rx="11.6" ry="6.6"/>
<ellipse class="p" cx="449" cy="557.7" rx="8.4" ry="4.6"/>
<path class="p2" d="M441.9 557.2A7.6 4 0 0 1 456.1 557.2"/>
<path class="p" d="M446.4 567L451.6 567"/>
<path class="p" d="M446.4 547.4L451.6 547.4"/>
<path class="p" d="M432 551.6L437.2 551.6"/>
<path class="p" d="M460.8 551.6L466 551.6"/>
<path class="p" d="M438.6 587.8A10.6 6.4 0 1 1 448.3 594.4"/>
<path class="p" d="M440.7 587.3A8.6 4.8 0 1 1 448.9 592.8"/>
<ellipse class="p" cx="439.8" cy="588.6" rx="1.4" ry="1.1"/>
<ellipse class="p" cx="447.4" cy="593.4" rx="1.5" ry="1"/>
<ellipse class="pf" cx="449.4" cy="607.2" rx="9.5" ry="5.6"/>
<ellipse class="p" cx="449.4" cy="607.2" rx="8" ry="4.4"/>
<ellipse class="p" cx="449.4" cy="623.4" rx="8.6" ry="4"/>
<ellipse class="p2" cx="449.4" cy="624" rx="5.3" ry="2.2"/>
<path class="p" d="M457.9 627.6A8.6 4 0 1 1 440.9 627.6"/>
<path class="p" d="M457.9 632.4A8.6 4 0 1 1 440.9 632.4"/>
<path class="p" d="M457.9 637.3A8.6 4 0 1 1 440.9 637.3"/>
<path class="p" d="M457.9 642.1A8.6 4 0 1 1 440.9 642.1"/>
<ellipse class="pf" cx="449.4" cy="660" rx="9.5" ry="5.6"/>
<ellipse class="p" cx="449.4" cy="660" rx="8" ry="4.4"/>
</g>
<g class="ld" id="asm" style="stroke:#3d3d3d;stroke-width:1.05">
<path d="M224.3 86V38.6L336.8 102.6V161.6"/>
<path d="M222.6 81.2H226.2" stroke-width="1.6"/>
<path d="M337 570.5V633L448.9 697V664"/>
</g>
<g id="wmback">
<text class="wm" x="136" y="375.1" textLength="83" lengthAdjust="spacingAndGlyphs">FridayParts</text>
<text class="wm" x="492.2" y="375.1" textLength="83" lengthAdjust="spacingAndGlyphs">FridayParts</text>
<text class="wmi" transform="translate(526 361.3) scale(1.28 1)" text-anchor="end" x="0" y="0">.com</text>
</g>
<!-- p_logo -->
<g id="p_logo">
<rect x="214" y="328.4" width="273.6" height="46.2" rx="8" fill="#ececec"/>
<path d="M247.7 332.9 L252.7 340.3" stroke="#fff" stroke-width="3.6" fill="none" stroke-linecap="round"/>
<path d="M248.6 326.3 L253.7 330.4 L250.1 333.8 L245.4 331.6Z" fill="#fff" stroke="#fff" stroke-width="2.4" stroke-linejoin="round"/>
<path d="M237.5 365.7C237.7 364.8 240.8 364 241.8 364.4C242.8 364.8 244.5 367.4 244.3 368.2C244.2 369 242 370.3 240.9 369.9C239.9 369.5 237.4 366.5 237.5 365.7Z" fill="#fff" stroke="#fff" stroke-width="2.4" stroke-linejoin="round"/>
<path d="M250.3 358C250.7 357.2 254.1 357.4 255 358C255.8 358.6 256.3 361.5 255.8 362.3C255.4 363 252.8 363.7 252 363.1C251.2 362.5 249.9 358.8 250.3 358Z" fill="#fff" stroke="#fff" stroke-width="2.4" stroke-linejoin="round"/>
<path d="M239.7 369.1C240.5 368.4 243.8 367.4 244.8 367.8C245.7 368.2 246.3 370.6 245.9 371.6C245.4 372.6 242.8 374.5 241.8 374.6C240.8 374.7 239.7 373.3 239.4 372.5C239.1 371.6 238.9 369.8 239.7 369.1Z" fill="#fff" stroke="#fff" stroke-width="2.4" stroke-linejoin="round"/>
<path d="M250.7 362.7C251.5 361.8 254.7 360.4 255.6 361C256.4 361.6 256.7 365.2 256.3 366.5C255.8 367.8 253.7 369.4 252.9 369.5C252 369.6 250.8 368 250.5 366.9C250.1 365.9 250 363.6 250.7 362.7Z" fill="#fff" stroke="#fff" stroke-width="2.4" stroke-linejoin="round"/>
<path d="M230.3 346.1C231.4 344.3 235.3 343.1 237.5 342.7C239.8 342.3 243.4 342.4 245.2 343.5C247 344.7 248 348.6 249.4 350.3C250.9 352.1 254 353.7 254.6 355.4C255.1 357.2 254.1 360.6 252.9 362.3C251.6 363.9 248.2 365.7 246 366.5C243.9 367.3 240.3 368 238.4 367.4C236.5 366.7 234.6 364.2 233.3 362.3C232 360.3 230.3 357 229.9 354.6C229.4 352.2 229.1 347.9 230.3 346.1Z" fill="#fff" stroke="#fff" stroke-width="2.4" stroke-linejoin="round"/>
<path d="M232.4 352C231.7 351.8 229.4 354.6 228.2 355.4C227 356.3 225 357.3 224.3 358C223.7 358.7 223.5 359.7 223.9 360.1C224.4 360.6 225.9 361.4 227.3 361C228.7 360.5 232.5 358.5 233.3 357.1C234 355.8 233.2 352.3 232.4 352Z" fill="#fff" stroke="#fff" stroke-width="2.4" stroke-linejoin="round"/>
<path d="M245.6 346.1C245.5 344.8 247.2 342.2 247.7 341C248.3 339.8 248.8 338.3 249.4 338C250.1 337.7 251.9 338.3 252 339.3C252.1 340.2 250.8 342.9 250.3 344.4C249.8 345.9 249.3 349.2 248.6 349.5C247.9 349.7 245.7 347.4 245.6 346.1Z" fill="#fff" stroke="#fff" stroke-width="2.4" stroke-linejoin="round"/>
<path d="M229 342.7C228.4 341.5 229.1 337.7 230.3 336.3C231.4 334.9 234.8 333.5 236.7 333.3C238.5 333.1 241.3 333.9 242.6 335C244 336.2 245.9 339.7 245.6 341C245.4 342.3 242.7 343.1 240.9 343.5C239.2 344 235.9 344.1 234.1 344C232.3 343.8 229.6 343.8 229 342.7Z" fill="#fff" stroke="#fff" stroke-width="2.4" stroke-linejoin="round"/>
<path d="M226.5 333.7C226.5 333 228.2 335.7 229 336.3C229.9 336.9 231.7 336.6 232 337.6C232.3 338.5 231.7 342.2 231.1 342.7C230.6 343.2 229.3 342.3 228.6 341C227.9 339.6 226.4 334.4 226.5 333.7Z" fill="#fff" stroke="#fff" stroke-width="2.4" stroke-linejoin="round"/>
<path d="M243.1 329.1C242.4 329.1 241.7 332.8 241.8 334.2C241.9 335.5 243.2 337.2 243.9 338C244.6 338.8 246.1 339.9 246.5 339.3C246.8 338.7 246.6 335.7 246 334.2C245.5 332.6 243.7 329.1 243.1 329.1Z" fill="#fff" stroke="#fff" stroke-width="2.4" stroke-linejoin="round"/>
<path d="M247.7 332.9 L252.7 340.3" stroke="#7a4424" stroke-width="1.5" fill="none" stroke-linecap="round"/>
<path d="M248.6 326.3 L253.7 330.4 L250.1 333.8 L245.4 331.6Z" fill="#e8343a"/>
<path d="M237.5 365.7C237.7 364.8 240.8 364 241.8 364.4C242.8 364.8 244.5 367.4 244.3 368.2C244.2 369 242 370.3 240.9 369.9C239.9 369.5 237.4 366.5 237.5 365.7Z" fill="#e0a672"/>
<path d="M250.3 358C250.7 357.2 254.1 357.4 255 358C255.8 358.6 256.3 361.5 255.8 362.3C255.4 363 252.8 363.7 252 363.1C251.2 362.5 249.9 358.8 250.3 358Z" fill="#e0a672"/>
<path d="M239.7 369.1C240.5 368.4 243.8 367.4 244.8 367.8C245.7 368.2 246.3 370.6 245.9 371.6C245.4 372.6 242.8 374.5 241.8 374.6C240.8 374.7 239.7 373.3 239.4 372.5C239.1 371.6 238.9 369.8 239.7 369.1Z" fill="#c3c6cc"/>
<path d="M250.7 362.7C251.5 361.8 254.7 360.4 255.6 361C256.4 361.6 256.7 365.2 256.3 366.5C255.8 367.8 253.7 369.4 252.9 369.5C252 369.6 250.8 368 250.5 366.9C250.1 365.9 250 363.6 250.7 362.7Z" fill="#c3c6cc"/>
<path d="M230.3 346.1C231.4 344.3 235.3 343.1 237.5 342.7C239.8 342.3 243.4 342.4 245.2 343.5C247 344.7 248 348.6 249.4 350.3C250.9 352.1 254 353.7 254.6 355.4C255.1 357.2 254.1 360.6 252.9 362.3C251.6 363.9 248.2 365.7 246 366.5C243.9 367.3 240.3 368 238.4 367.4C236.5 366.7 234.6 364.2 233.3 362.3C232 360.3 230.3 357 229.9 354.6C229.4 352.2 229.1 347.9 230.3 346.1Z" fill="#8c5a2e"/>
<path d="M232.4 352C231.7 351.8 229.4 354.6 228.2 355.4C227 356.3 225 357.3 224.3 358C223.7 358.7 223.5 359.7 223.9 360.1C224.4 360.6 225.9 361.4 227.3 361C228.7 360.5 232.5 358.5 233.3 357.1C234 355.8 233.2 352.3 232.4 352Z" fill="#dba066"/>
<path d="M245.6 346.1C245.5 344.8 247.2 342.2 247.7 341C248.3 339.8 248.8 338.3 249.4 338C250.1 337.7 251.9 338.3 252 339.3C252.1 340.2 250.8 342.9 250.3 344.4C249.8 345.9 249.3 349.2 248.6 349.5C247.9 349.7 245.7 347.4 245.6 346.1Z" fill="#dba066"/>
<path d="M234.1 356.3C234.6 355.8 237.7 355.4 239.2 355.4C240.8 355.5 244.1 356.2 244.3 356.7C244.6 357.2 242.2 358.6 240.9 358.9C239.7 359.1 236.9 359.1 235.8 358.7C234.8 358.3 233.6 356.8 234.1 356.3Z" fill="#e3b07c"/>
<path d="M235 360.6C235.8 360.2 239.6 361.2 241.8 360.6C244 359.9 248.1 356.6 249.4 356.3C250.8 356 251.6 357.4 250.7 358.4C249.8 359.4 245.7 362.4 243.5 363.1C241.3 363.8 237.5 363.5 236.3 363.1C235 362.7 234.1 360.9 235 360.6Z" fill="#5e3a1a"/>
<path d="M246 352C246.4 351.3 248.8 350.9 249.4 351.2C250.1 351.4 250.6 353 250.3 353.7C250 354.4 248 356.1 247.3 355.9C246.7 355.6 245.7 352.7 246 352Z" fill="#d69a62"/>
<path d="M230.7 345.2C231.7 344 235.4 342.9 237.5 342.7C239.6 342.4 243.5 342.6 244.8 343.5C246 344.4 246.4 347.2 246 348.6C245.7 350 244.2 352.1 242.6 352.9C241.1 353.7 237.6 354.1 235.8 353.7C234.1 353.4 231.9 352 231.1 350.8C230.4 349.5 229.8 346.4 230.7 345.2Z" fill="#a86c3a"/>
<path d="M231.6 345.2C232 344.6 234.4 344 235 344.4C235.6 344.8 235.8 347.1 235.4 347.8C235 348.4 233 349 232.4 348.6C231.9 348.3 231.2 345.9 231.6 345.2Z" fill="#e8c094"/>
<path d="M235 348.2C235.7 347.4 239.7 346.6 240.9 346.9C242.2 347.3 243.6 349.4 243.5 350.3C243.4 351.2 241.2 352.6 240.1 352.9C238.9 353.1 236.6 352.7 235.8 352C235.1 351.3 234.2 349 235 348.2Z" fill="#6e4220"/>
<ellipse cx="239.1" cy="350.5" rx="1.4" ry="1.5" fill="#ee5573"/>
<path d="M229 342.7C228.4 341.5 229.1 337.7 230.3 336.3C231.4 334.9 234.8 333.5 236.7 333.3C238.5 333.1 241.3 333.9 242.6 335C244 336.2 245.9 339.7 245.6 341C245.4 342.3 242.7 343.1 240.9 343.5C239.2 344 235.9 344.1 234.1 344C232.3 343.8 229.6 343.8 229 342.7Z" fill="#b4b8bf"/>
<path d="M233.3 335 L234.3 343.5M238.4 333.7L239.1 343.5M242.6 335.4L243.1 342.7" stroke="#7d828a" stroke-width="0.9" fill="none"/>
<path d="M229.4 342.7C230.1 342.8 232.7 343.5 234.1 343.5C235.5 343.6 238.6 343.4 240.1 343.1C241.6 342.8 244.5 341.4 245.2 341.1" stroke="#fff" stroke-width="1" fill="none" stroke-dasharray="1.2 1"/>
<path d="M226.5 333.7C226.5 333 228.2 335.7 229 336.3C229.9 336.9 231.7 336.6 232 337.6C232.3 338.5 231.7 342.2 231.1 342.7C230.6 343.2 229.3 342.3 228.6 341C227.9 339.6 226.4 334.4 226.5 333.7Z" fill="#fafafa" stroke="#9a9a9a" stroke-width="0.6"/>
<path d="M243.1 329.1C242.4 329.1 241.7 332.8 241.8 334.2C241.9 335.5 243.2 337.2 243.9 338C244.6 338.8 246.1 339.9 246.5 339.3C246.8 338.7 246.6 335.7 246 334.2C245.5 332.6 243.7 329.1 243.1 329.1Z" fill="#fafafa" stroke="#9a9a9a" stroke-width="0.6"/>
<text class="logo" transform="scale(1.11 1)" x="236.90 258.61 278.30 297.80 319.11 338.52 357.13 375.82 394.15 415.28" y="364.8">MOTOVIKING</text>
</g>
<g id="labels">
<text class="n" x="139" y="72">12</text>
<text class="n" x="139" y="122">19</text>
<text class="n" x="255.6" y="133">15</text>
<text class="n" x="139" y="161">20</text>
<text class="n" x="139" y="198">21</text>
<text class="n" x="139" y="238">23</text>
<text class="n" x="140" y="280.2">22</text>
<text class="n" x="149.3" y="346">6</text>
<text class="n" x="149.3" y="401">7</text>
<text class="n" x="149.3" y="450">3</text>
<text class="n" x="149.3" y="488">4</text>
<text class="n" x="139" y="636.6">10</text>
<text class="n" x="140" y="673">11</text>
<text class="n" x="347" y="121.2">29</text>
<text class="n" x="522.9" y="58">5</text>
<text class="n" x="522.9" y="91.3">2</text>
<text class="n" x="522.9" y="124">14</text>
<text class="n" x="522.9" y="163">28</text>
<text class="n" x="522.9" y="207.2">26</text>
<text class="n" x="522.9" y="261.3">27</text>
<text class="n" x="522.9" y="305.3">24</text>
<text class="n" x="522.9" y="350">25</text>
<text class="n" x="522.9" y="389.2">24</text>
<text class="n" x="522.9" y="433.2">25</text>
<text class="n" x="522.9" y="474.2">24</text>
<text class="n" x="522.9" y="509.3">9</text>
<text class="n" x="522.9" y="535.3">8</text>
<text class="n" x="522.9" y="569.2">13</text>
<text class="n" x="522.9" y="601">18</text>
<text class="n" x="522.9" y="623">16</text>
<text class="n" x="522.9" y="648">17</text>
<text class="n" x="522.9" y="684">16</text>
<text class="nb" x="149" y="601.5">1</text>
</g>
<g id="arrow"><path d="M120.3 562.3L145.4 577.6L147.9 574.6L156.8 589.2L139.3 587L142.6 584.2Z" fill="#ff3d3d"/></g>
</svg>
</body>
</html>
